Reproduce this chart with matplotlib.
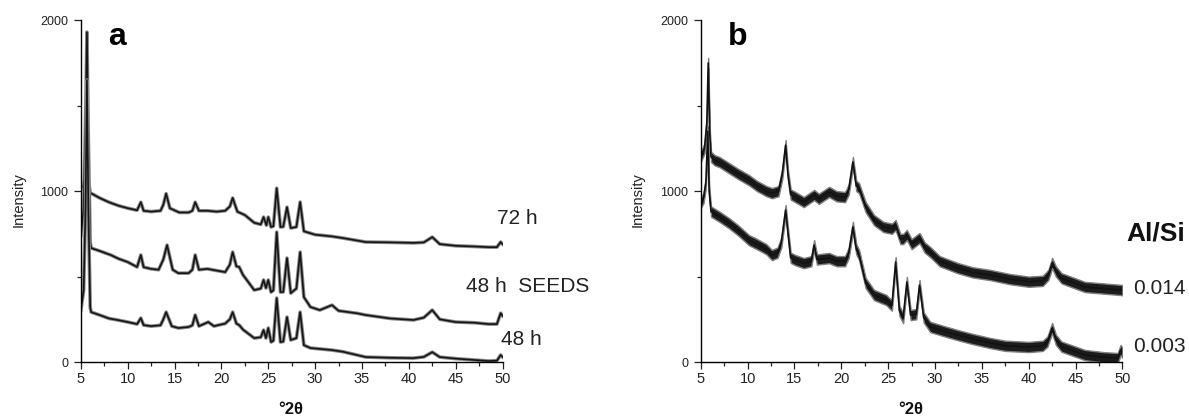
import matplotlib
matplotlib.use("Agg")
import matplotlib.pyplot as plt
from matplotlib.ticker import MultipleLocator

plt.rcParams['font.family'] = ['Liberation Sans', 'DejaVu Sans']

# ---- panel a : synthesis time ----
x_72h = [5.0, 5.3, 5.6, 5.75, 6.0, 7, 8, 9, 10, 11.0, 11.4, 11.7, 12.5, 13.5, 13.8, 14.1, 14.5, 15.5,
         16.5, 16.9, 17.2, 17.6, 18.5, 19.5, 20.4, 20.9, 21.2, 21.7, 22.5, 23.5, 24.2, 24.5, 24.8,
         25.0, 25.3, 25.55, 25.9, 26.3, 26.6, 27.0, 27.4, 28.0, 28.4, 28.8, 30, 31.8, 33, 35.4, 38,
         40.5, 41.6, 42.5, 43.3, 45, 47, 48.5, 49.4, 49.8, 50.0]
y_72h = [1010, 1040, 1100, 1080, 990, 960, 935, 915, 900, 888, 935, 885, 880, 885, 920, 985, 900, 875,
         875, 885, 935, 885, 885, 880, 885, 910, 960, 880, 860, 815, 805, 848, 800,
         848, 790, 795, 1017, 790, 792, 906, 784, 790, 936, 765, 745, 735, 725, 702, 700,
         697, 700, 731, 690, 680, 676, 672, 672, 702, 690]

x_48s = [5.0, 5.3, 5.5, 5.65, 5.8, 6.0, 6.1, 7, 8.2, 9, 10, 11.0, 11.4, 11.7, 12.5, 13.3, 13.8, 14.2,
         14.8, 15.4, 16.5, 16.9, 17.2, 17.6, 18.5, 19.5, 20.4, 20.9, 21.2, 21.6, 21.9, 22.3, 23.5,
         24.2, 24.5, 24.75, 25.0, 25.3, 25.55, 25.9, 26.3, 26.6, 27.0, 27.4, 28.0, 28.4, 28.8, 29.5,
         30.5, 31.8, 32.5, 34.5, 35.4, 38, 40.5, 41.6, 42.5, 43.3, 45, 47, 48.5, 49.4, 49.8, 50.0]
y_48s = [740, 900, 1400, 1930, 1300, 700, 667, 650, 626, 605, 585, 556, 626, 555, 545, 540, 600, 684,
         540, 520, 520, 540, 626, 540, 545, 535, 526, 570, 643, 560, 556, 510, 421,
         430, 480, 433, 480, 409, 420, 760, 409, 410, 608, 403, 430, 643, 380, 322,
         304, 333, 300, 285, 275, 255, 246, 260, 304, 250, 234, 230, 222, 222, 286, 270]

x_48h = [5.0, 5.3, 5.5, 5.65, 5.8, 6.0, 6.1, 7, 8, 9, 10, 11.0, 11.4, 11.7, 12.5, 13.5, 13.8, 14.1,
         14.7, 15.4, 16.5, 16.9, 17.2, 17.6, 18.6, 19.2, 20.4, 20.9, 21.2, 21.6, 21.9, 22.3, 23.5,
         24.2, 24.5, 24.75, 25.0, 25.3, 25.55, 25.9, 26.3, 26.6, 27.0, 27.4, 28.0, 28.4, 28.8, 29.5,
         31.8, 33, 35.4, 38, 40.5, 41.6, 42.5, 43.3, 45, 47, 48.5, 49.4, 49.8, 50.0]
y_48h = [304, 420, 900, 1650, 900, 320, 292, 275, 255, 245, 234, 222, 257, 216, 210, 215, 250, 292,
         210, 199, 205, 215, 275, 210, 234, 210, 225, 250, 292, 225, 216, 190, 140,
         145, 187, 140, 199, 117, 125, 374, 117, 120, 263, 129, 140, 292, 99, 82,
         70, 60, 29, 25, 23, 30, 58, 29, 20, 12, 6, 8, 41, 30]

# ---- panel b : Al/Si ratio ----
x_014 = [5.0, 5.4, 5.65, 5.8, 5.95, 6.1, 6.5, 7, 8, 9, 10.15, 11, 12, 12.6, 13.3, 13.7, 14.06, 14.3,
         14.6, 15.1, 16, 17.1, 17.6, 18.7, 19.5, 20.4, 20.8, 21.24, 21.6, 21.9, 22.6, 23.5, 24.5,
         25.4, 25.8, 26.3, 26.6, 27.0, 27.5, 28.35, 28.9, 29.5, 30.5, 32.4, 34, 35.9, 38, 40, 41.5,
         42.1, 42.5, 42.9, 43.5, 46, 48, 50]
y_014 = [1200, 1250, 1400, 1750, 1350, 1200, 1180, 1170, 1135, 1100, 1064, 1030, 1000, 988, 1000, 1100, 1269, 1100,
         980, 965, 936, 977, 955, 995, 970, 965, 1010, 1170, 1030, 1017, 906, 830, 790,
         780, 801, 720, 720, 743, 690, 725, 670, 643, 590, 550, 525, 509, 485, 470, 475,
         510, 579, 530, 490, 439, 430, 421]

x_003 = [5.0, 5.3, 5.55, 5.75, 5.9, 6.1, 7, 8, 9, 10.15, 11, 12, 12.6, 13.2, 13.6, 14.06, 14.3, 14.6,
         15.1, 16, 16.8, 17.1, 17.4, 18.7, 19.5, 20.4, 20.8, 21.24, 21.6, 21.9, 22.6, 23.5, 24.8,
         25.4, 25.8, 26.2, 26.6, 27.0, 27.4, 28.0, 28.35, 28.8, 29.5, 31, 32.4, 34, 35.9, 37.5, 40,
         41.5, 42.0, 42.5, 42.9, 43.5, 46, 48, 49.5, 49.8, 50]
y_003 = [930, 960, 1050, 1350, 1000, 880, 850, 813, 770, 713, 690, 660, 626, 640, 700, 889, 760, 610,
         596, 579, 590, 684, 600, 608, 590, 590, 640, 790, 660, 626, 462, 392, 363,
         330, 585, 300, 257, 468, 275, 280, 450, 260, 205, 180, 158, 135, 111, 95, 88,
         95, 120, 199, 130, 90, 41, 28, 23, 70, 55]

labels_a = ['72 h', '48 h  SEEDS', '48 h']
labels_b = ['0.014', '0.003']

fig, ax = plt.subplots(1, 2, figsize=(11.89, 4.2), dpi=100)
fig.subplots_adjust(left=0.068, right=0.944, bottom=0.138, top=0.952, wspace=0.47)

# panel a traces
for xs, ys in [(x_72h, y_72h), (x_48s, y_48s), (x_48h, y_48h)]:
    ax[0].plot(xs, ys, color='#8a8a8a', lw=2.6)
    ax[0].plot(xs, ys, color='#151515', lw=1.2)

# panel b traces (noisy, drawn as a thick band)
for xs, ys in [(x_014, y_014), (x_003, y_003)]:
    lo = [v - 30 for v in ys]
    hi = [v + 30 for v in ys]
    ax[1].fill_between(xs, lo, hi, color='#1c1c1c', lw=1.0, edgecolor='#808080')
    ax[1].plot(xs, ys, color='#111111', lw=1.2)

for a in ax:
    a.set_xlim(5, 50)
    a.set_ylim(0, 2000)
    a.spines['top'].set_visible(False)
    a.spines['right'].set_visible(False)
    a.spines['left'].set_linewidth(1.0)
    a.spines['bottom'].set_linewidth(1.0)
    a.xaxis.set_major_locator(MultipleLocator(5))
    a.xaxis.set_minor_locator(MultipleLocator(2.5))
    a.yaxis.set_major_locator(MultipleLocator(1000))
    a.yaxis.set_minor_locator(MultipleLocator(500))
    a.tick_params(which='both', direction='out', width=0.9, colors='#222222')
    a.tick_params(which='major', length=5)
    a.tick_params(which='minor', length=3)
    a.tick_params(axis='x', labelsize=10.5, pad=2)
    a.tick_params(axis='y', labelsize=9, pad=4)

# curve labels
ax[0].text(49.45, 842, labels_a[0], fontsize=15, color='#222222', va='center', clip_on=False)
ax[0].text(46.1, 444, labels_a[1], fontsize=15, color='#222222', va='center', clip_on=False)
ax[0].text(49.8, 129, labels_a[2], fontsize=15, color='#222222', va='center', clip_on=False)

ax[1].text(50.4, 754, 'Al/Si', fontsize=19, fontweight='bold', color='#111111', va='center', clip_on=False)
ax[1].text(51.1, 433, labels_b[0], fontsize=15, color='#222222', va='center', clip_on=False)
ax[1].text(51.1, 88, labels_b[1], fontsize=15, color='#222222', va='center', clip_on=False)

# panel letters
fig.text(117 / 1189, 1 - 45 / 420, 'a', fontsize=23, fontweight='bold', ha='center', va='baseline')
fig.text(738 / 1189, 1 - 45 / 420, 'b', fontsize=23, fontweight='bold', ha='center', va='baseline')

# axis titles
for xc, xl in [(19, 291), (638, 911)]:
    fig.text(xc / 1189, 1 - 200 / 420, 'Intensity', fontsize=10.5, rotation=90,
             ha='center', va='center', color='#222222')
    fig.text(xl / 1189, 1 - 410 / 420, '°2θ', fontsize=12, fontweight='bold',
             ha='center', va='center', color='#111111')

plt.savefig("out.png", dpi=100)
